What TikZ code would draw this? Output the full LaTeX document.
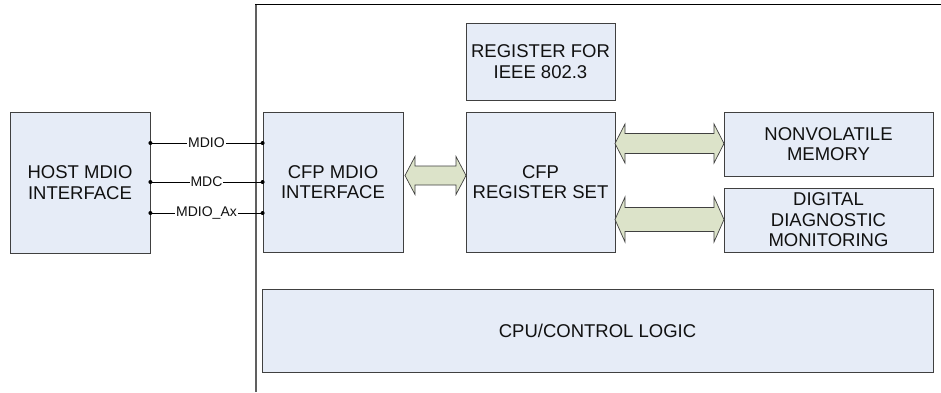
\documentclass[tikz,border=0pt]{standalone}
\usepackage{fontspec}
\setmainfont{Liberation Sans}
\usetikzlibrary{shadows}
\definecolor{boxfill}{HTML}{E6ECF7}
\definecolor{boxline}{HTML}{404040}
\definecolor{arrfill}{HTML}{DCE3C9}
\definecolor{txt}{HTML}{111111}
\newcommand{\blockarr}[6]{%
  \draw[barrow] (#1,#3) -- (#1+#6,#3-#5) -- (#1+#6,#3-#4) -- (#2-#6,#3-#4) -- (#2-#6,#3-#5) -- (#2,#3)
   -- (#2-#6,#3+#5) -- (#2-#6,#3+#4) -- (#1+#6,#3+#4) -- (#1+#6,#3+#5) -- cycle;}
\begin{document}
\begin{tikzpicture}[x=1pt,y=-1pt,
  blk/.style={draw=boxline, line width=0.8pt, fill=boxfill, text=txt,
    drop shadow={shadow xshift=1.3pt, shadow yshift=-1.3pt, fill=gray!55, opacity=1},
    align=center, inner sep=0pt, font=\fontsize{18.5}{20.5}\selectfont},
  barrow/.style={draw=boxline, line width=0.7pt, fill=arrfill},
  sig/.style={line width=0.7pt, draw=black},
  siglab/.style={fill=white, inner sep=1pt, text=txt, font=\fontsize{14}{16}\selectfont},
  dotend/.style={circle, fill=black, inner sep=0pt, minimum size=4pt}]
\useasboundingbox (0,0) rectangle (941,392);
\fill[white] (0,0) rectangle (941,392);
% outer frame
\draw[line width=2pt, gray!75!black] (256,392) -- (256,4);
\draw[line width=1pt, black] (255,4) -- (941,4);
% blocks
\node[blk, minimum width=140pt, minimum height=141pt] (host) at (80,182.5) {HOST MDIO\\INTERFACE};
\node[blk, minimum width=140pt, minimum height=140pt] (cfpmdio) at (333,182) {CFP MDIO\\INTERFACE};
\node[blk, minimum width=149pt, minimum height=77pt] (ieee) at (540.5,61.5) {REGISTER FOR\\IEEE 802.3};
\node[blk, minimum width=149pt, minimum height=140pt] (regset) at (540.5,182) {CFP\\REGISTER SET};
\node[blk, minimum width=209pt, minimum height=64pt] (nvm) at (828.5,144) {NONVOLATILE\\MEMORY};
\node[blk, minimum width=209pt, minimum height=64pt] (ddm) at (828.5,220) {DIGITAL\\DIAGNOSTIC\\MONITORING};
\node[blk, minimum width=671pt, minimum height=83pt] (cpu) at (597.5,330.5) {CPU/CONTROL LOGIC};
% signal lines
\foreach \yy/\lab/\nm in {143/MDIO/a, 182/MDC/b, 213/MDIO\_Ax/c}{
  \coordinate (l\nm) at (host.east |- 0,\yy);
  \coordinate (r\nm) at (cfpmdio.west |- 0,\yy);
  \draw[sig] (l\nm) -- node[siglab] (lab\nm) {\lab} (r\nm);
  \node[dotend] at (l\nm) {};
  \node[dotend] at (r\nm) {};
}
% block arrows
\blockarr{405}{466}{175.5}{9.5}{19}{10}
\blockarr{615}{724}{143.5}{10}{19.5}{10}
\blockarr{615}{724}{219.5}{12}{22.5}{10}
\end{tikzpicture}
\end{document}
